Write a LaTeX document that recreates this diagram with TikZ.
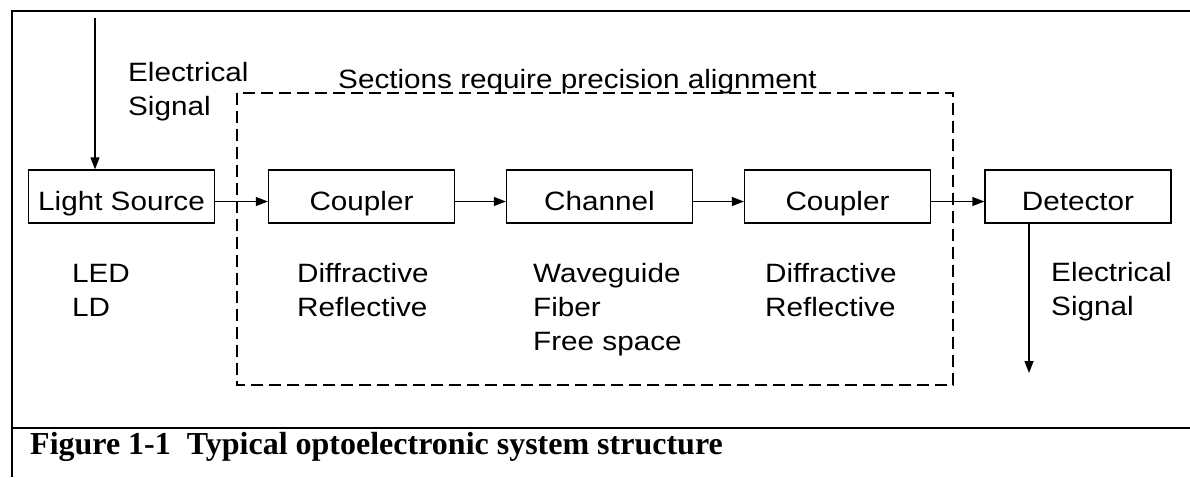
\documentclass[tikz,border=0pt]{standalone}
\usepackage{fontspec}
\setmainfont{Liberation Sans}[FakeStretch=1.12]
\newfontfamily\capfont{Liberation Serif}
\usetikzlibrary{arrows.meta}
\tikzset{
  frame/.style={line width=1.6pt},
  block/.style={draw, line width=1.3pt, minimum width=186pt, minimum height=53pt,
                inner sep=0pt, text height=27pt, text depth=0pt,
                font=\fontsize{26.5}{34}\selectfont},
  lbl/.style={anchor=base west, inner sep=0pt, align=left,
              font=\fontsize{26.5}{34}\selectfont},
  arr/.style={line width=1.3pt, -{Triangle[length=12pt,width=9pt]}},
  zone/.style={line width=1.3pt, dash pattern=on 12pt off 6pt}
}
\begin{document}
\begin{tikzpicture}[x=1pt,y=-1pt]
\useasboundingbox (0,0) rectangle (1190,477);
% outer frame and caption rule
\draw[frame] (1190,11) -- (12,11) -- (12,477);
\draw[frame] (12,428) -- (1190,428);

% region needing precise alignment
\draw[zone] (237,93) rectangle (953,385);
\node[lbl] (zt) at (338,88) {Sections require precision alignment};

% signal chain
\node[block] (ls) at (121.5,196.5) {Light Source};
\node[block] (c1) at (361.5,196.5) {Coupler};
\node[block] (ch) at (599.5,196.5) {Channel};
\node[block] (c2) at (837.5,196.5) {Coupler};
\node[block] (det) at (1078,196.5) {Detector};

\draw[arr] ([yshift=-5pt]ls.east) -- ([yshift=-5pt]c1.west);
\draw[arr] ([yshift=-5pt]c1.east) -- ([yshift=-5pt]ch.west);
\draw[arr] ([yshift=-5pt]ch.east) -- ([yshift=-5pt]c2.west);
\draw[arr] ([yshift=-5pt]c2.east) -- ([yshift=-5pt]det.west);

% electrical input and output
\coordinate (ein) at (95,18);
\coordinate (eout) at (1029,373);
\draw[arr] (ein) -- (ein |- ls.north);
\draw[arr] (det.south -| eout) -- (eout);
\node[lbl] (einl) at (128,115) {Electrical\\Signal};
\node[lbl] (eoutl) at (1051,315) {Electrical\\Signal};

% component options (anchored at the last line's baseline)
\node[lbl] (lsl) at (72,316) {LED\\LD};
\node[lbl] (c1l) at (297,316) {Diffractive\\Reflective};
\node[lbl] (chl) at (533,350) {Waveguide\\Fiber\\Free space};
\node[lbl] (c2l) at (765,316) {Diffractive\\Reflective};

% caption
\node[anchor=base west, inner sep=0pt, font=\capfont\bfseries\fontsize{32}{38}\selectfont]
  (cap) at (30,454) {Figure 1-1\ \ Typical optoelectronic system structure};
\end{tikzpicture}
\end{document}
